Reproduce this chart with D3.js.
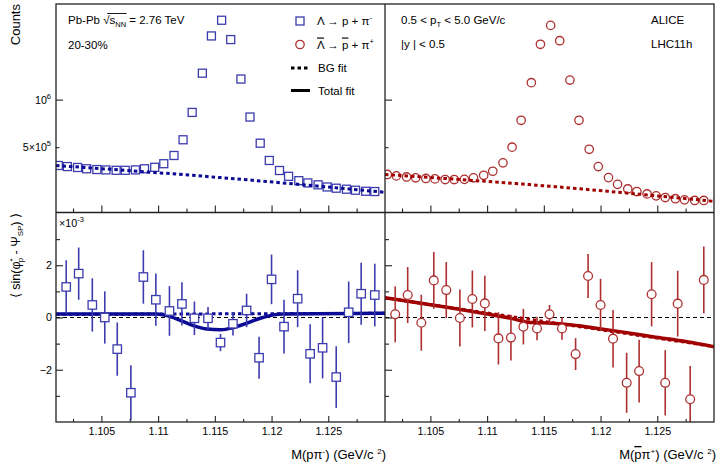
<!DOCTYPE html>
<html><head><meta charset="utf-8">
<script src="https://cdn.jsdelivr.net/npm/d3@7"></script>
<style>
body{margin:0;background:#fff}
svg{display:block}
text{font-family:"Liberation Sans",Arial,Helvetica,sans-serif;fill:#000}
</style>
</head><body>
<svg id="c" width="720" height="465"></svg>
<script>
// ---------------- data ----------------
const massTop = [1.1012,1.1020,1.1029,1.1037,1.1046,1.1054,1.1063,1.1071,1.1080,1.1088,1.1097,1.1105,1.1114,1.1122,1.1130,1.1139,1.1147,1.1156,1.1164,1.1173,1.1181,1.1190,1.1198,1.1207,1.1215,1.1224,1.1232,1.1241,1.1249,1.1257,1.1266,1.1274,1.1283,1.1291];
const countsLambda = [383e3,377e3,372e3,365e3,361e3,359e3,357e3,357e3,359e3,365e3,373e3,393e3,443e3,557e3,830e3,1470e3,2530e3,3180e3,2400e3,1350e3,776e3,530e3,412e3,356e3,327e3,307e3,297e3,289e3,280e3,275e3,271e3,267e3,263e3,262e3];
const countsAntiLambda = [336e3,329e3,324e3,320e3,317e3,315e3,312e3,312e3,313e3,320e3,332e3,352e3,398e3,500e3,740e3,1280e3,2240e3,2950e3,2360e3,1330e3,740e3,485e3,377e3,321e3,291e3,272e3,262e3,253e3,246e3,240e3,236e3,232e3,230e3,230e3];
const bgTopMass = [1.101,1.1155,1.130];
const bgTopLambda = [383e3,321e3,259e3];
const bgTopAnti = [336e3,283e3,227e3];

const massBot = [1.1019,1.1030,1.1042,1.1053,1.1064,1.1076,1.1087,1.1098,1.1110,1.1121,1.1132,1.1144,1.1155,1.1166,1.1178,1.1189,1.1200,1.1211,1.1223,1.1234,1.1245,1.1257,1.1268,1.1279,1.1291];
const sinLambda = [1.17,1.68,0.48,0.0,-1.21,-2.88,1.55,0.68,0.25,0.52,-0.03,-0.03,-0.96,-0.24,0.27,-1.54,1.46,-0.35,0.72,-1.39,-1.16,-2.28,0.20,0.91,0.86];
const errLambda = [1.02,1.0,1.02,1.0,1.02,1.05,1.02,1.0,0.95,0.83,0.64,0.43,0.33,0.45,0.64,0.80,0.95,1.03,1.09,1.13,1.17,1.18,1.18,1.19,1.20];
const sinAnti = [0.12,0.86,-0.20,1.42,1.05,-0.02,0.71,0.54,-0.80,-0.77,-0.35,-0.42,0.12,-0.42,-1.40,1.59,0.48,-0.81,-2.50,-2.05,0.89,-2.50,0.53,-3.13,1.44];
const errAnti = [1.07,1.07,1.07,1.09,1.07,1.09,1.09,1.06,1.0,0.88,0.68,0.45,0.36,0.43,0.61,0.84,1.0,1.10,1.15,1.20,1.23,1.25,1.26,1.27,1.28];

const bgBotMass = [1.101,1.130];
const bgBotLambda = [0.12,0.16];
const bgBotAnti = [0.75,-1.11];
const totLambdaMass = [1.101,1.1099,1.1108,1.1119,1.1131,1.1143,1.1155,1.1166,1.1178,1.1190,1.1202,1.1210,1.130];
const totLambda = [0.13,0.13,0.07,-0.10,-0.31,-0.44,-0.47,-0.39,-0.22,-0.03,0.10,0.13,0.16];
const totAntiMass = [1.101,1.1036,1.1066,1.1096,1.1121,1.1136,1.1157,1.1175,1.1193,1.1217,1.1246,1.1276,1.130];
const totAnti = [0.76,0.58,0.38,0.16,-0.03,-0.18,-0.22,-0.29,-0.39,-0.54,-0.74,-0.93,-1.12];

const xMajor = [1.105,1.11,1.115,1.12,1.125];
const xMinor = [1.1025,1.1075,1.1125,1.1175,1.1225,1.1275];
const yTopMajor = [1e6], yTopMinor = [5e5];
const yBotMajor = [-2,0,2], yBotMinor = [-3,-1,1,3];

// ---------------- layout ----------------
const svg = d3.select("#c");
const L = 56, M = 385, R = 714, T = 4, MID = 212.5, B = 422;
const blueM = "#3c3cae", blueF = "#0a0a94", redM = "#ad2f2f", redF = "#a00000";
const FONT = "Liberation Sans, Arial, sans-serif";

const xL = d3.scaleLinear().domain([1.101,1.13]).range([L,M]);
const xR = d3.scaleLinear().domain([1.101,1.13]).range([M,R]);
const yTop = d3.scaleLog().domain([1.93e5,4.03e6]).range([MID,T]);
const yBot = d3.scaleLinear().domain([-4,4]).range([B,213]);

const defs = svg.append("defs");
function clip(id,x0,y0,x1,y1){defs.append("clipPath").attr("id",id).append("rect").attr("x",x0).attr("y",y0).attr("width",x1-x0).attr("height",y1-y0);}
clip("tl",L,T,M,MID); clip("tr",M,T,R,MID); clip("bl",L,MID,M,B); clip("br",M,MID,R,B);

// ---------------- top panels ----------------
function topPanel(x, counts, bg, col, fcol, marker, cid){
  const g = svg.append("g").attr("clip-path",`url(#${cid})`);
  const pts = massTop.map((m,i)=>[x(m),yTop(counts[i])]);
  if(marker==="sq"){
    g.selectAll("rect.m").data(pts).join("rect").attr("class","m")
      .attr("x",d=>d[0]-4).attr("y",d=>d[1]-4).attr("width",8).attr("height",8)
      .attr("fill","none").attr("stroke",col).attr("stroke-width",1.3);
  } else {
    g.selectAll("circle.m").data(pts).join("circle").attr("class","m")
      .attr("cx",d=>d[0]).attr("cy",d=>d[1]).attr("r",4.2)
      .attr("fill","none").attr("stroke",col).attr("stroke-width",1.3);
  }
  const line = d3.line().x(d=>x(d[0])).y(d=>yTop(d[1])).curve(d3.curveMonotoneX);
  g.append("path").datum(bgTopMass.map((m,i)=>[m,bg[i]])).attr("d",line)
    .attr("fill","none").attr("stroke",fcol).attr("stroke-width",3).attr("stroke-dasharray","3.5,3");
}
topPanel(xL,countsLambda,bgTopLambda,blueM,blueF,"sq","tl");
topPanel(xR,countsAntiLambda,bgTopAnti,redM,redF,"ci","tr");

// ---------------- bottom panels ----------------
function botPanel(x, vals, errs, bg, totM, tot, col, fcol, marker, cid){
  const g = svg.append("g").attr("clip-path",`url(#${cid})`);
  g.append("line").attr("x1",x.range()[0]).attr("x2",x.range()[1]).attr("y1",yBot(0)).attr("y2",yBot(0))
    .attr("stroke","#000").attr("stroke-width",1).attr("stroke-dasharray","4,3");
  const line = d3.line().x(d=>x(d[0])).y(d=>yBot(d[1])).curve(d3.curveMonotoneX);
  g.append("path").datum(bgBotMass.map((m,i)=>[m,bg[i]])).attr("d",line)
    .attr("fill","none").attr("stroke",fcol).attr("stroke-width",3).attr("stroke-dasharray","3.5,3");
  g.append("path").datum(totM.map((m,i)=>[m,tot[i]])).attr("d",line)
    .attr("fill","none").attr("stroke",fcol).attr("stroke-width",3.5);
  const d = massBot.map((m,i)=>({x:x(m),y:yBot(vals[i]),y1:yBot(vals[i]+errs[i]),y0:yBot(vals[i]-errs[i])}));
  g.selectAll("line.e").data(d).join("line").attr("class","e")
    .attr("x1",p=>p.x).attr("x2",p=>p.x).attr("y1",p=>p.y1).attr("y2",p=>p.y0)
    .attr("stroke",col).attr("stroke-width",1.6);
  if(marker==="sq"){
    g.selectAll("rect.m").data(d).join("rect").attr("class","m")
      .attr("x",p=>p.x-4.2).attr("y",p=>p.y-4.2).attr("width",8.4).attr("height",8.4)
      .attr("fill","#fff").attr("stroke",col).attr("stroke-width",1.3);
  } else {
    g.selectAll("circle.m").data(d).join("circle").attr("class","m")
      .attr("cx",p=>p.x).attr("cy",p=>p.y).attr("r",4.4)
      .attr("fill","#fff").attr("stroke",col).attr("stroke-width",1.3);
  }
}
botPanel(xL,sinLambda,errLambda,bgBotLambda,totLambdaMass,totLambda,blueM,blueF,"sq","bl");
botPanel(xR,sinAnti,errAnti,bgBotAnti,totAntiMass,totAnti,redM,redF,"ci","br");

// ---------------- frames ----------------
const fr = svg.append("g").attr("fill","none").attr("stroke","#222").attr("stroke-width",1.3);
fr.append("rect").attr("x",L).attr("y",T).attr("width",R-L).attr("height",B-T);
fr.append("line").attr("x1",M).attr("x2",M).attr("y1",T).attr("y2",B);
fr.append("line").attr("x1",L).attr("x2",R).attr("y1",MID).attr("y2",MID);

// ---------------- axes ----------------
function styleAxis(sel){ sel.select(".domain").remove(); sel.selectAll(".tick line").attr("stroke","#222").attr("stroke-width",1.1); sel.selectAll("text").style("font-family",FONT); }
[xL,xR].forEach(x=>{
  // top panel x axis (no labels)
  svg.append("g").attr("transform",`translate(0,${MID})`).call(d3.axisBottom(x).tickValues(xMajor).tickSize(-7).tickFormat("")).call(styleAxis);
  svg.append("g").attr("transform",`translate(0,${MID})`).call(d3.axisBottom(x).tickValues(xMinor).tickSize(-4).tickFormat("")).call(styleAxis);
  // bottom panel x axis
  const ax = svg.append("g").attr("transform",`translate(0,${B})`)
    .call(d3.axisBottom(x).tickValues(xMajor).tickSize(-6).tickPadding(5).tickFormat(d=>d3.format("")(+d.toFixed(3))))
    .call(styleAxis);
  ax.selectAll("text").style("font-size","10.7px").attr("fill","#000");
  svg.append("g").attr("transform",`translate(0,${B})`).call(d3.axisBottom(x).tickValues(xMinor).tickSize(-3).tickFormat("")).call(styleAxis);
});
[L,M].forEach((x0,k)=>{
  const a1 = svg.append("g").attr("transform",`translate(${x0},0)`).call(d3.axisLeft(yTop).tickValues(yTopMajor).tickSize(-7).tickPadding(6).tickFormat(()=>"")).call(styleAxis);
  const a2 = svg.append("g").attr("transform",`translate(${x0},0)`).call(d3.axisLeft(yTop).tickValues(yTopMinor).tickSize(-3.5).tickPadding(6).tickFormat(()=>"")).call(styleAxis);
  const b1 = svg.append("g").attr("transform",`translate(${x0},0)`).call(d3.axisLeft(yBot).tickValues(yBotMajor).tickSize(-7).tickPadding(4).tickFormat(d=> k===0 ? (d<0?"\u2212"+(-d):String(d)) : "")).call(styleAxis);
  b1.selectAll("text").style("font-size","10.7px").attr("fill","#000");
  svg.append("g").attr("transform",`translate(${x0},0)`).call(d3.axisLeft(yBot).tickValues(yBotMinor).tickSize(-4).tickFormat("")).call(styleAxis);
  if(k===0){
    // log labels with superscripts
    a1.selectAll(".tick").each(function(d){
      const t = d3.select(this).append("text").attr("x",-5).attr("y",3.5).attr("text-anchor","end").style("font-size","10.7px").attr("fill","#000");
      t.append("tspan").text("10");
      t.append("tspan").attr("dy",-5).style("font-size","7.5px").text(String(Math.round(Math.log10(d))));
    });
    a2.selectAll(".tick").each(function(d){
      const e = Math.floor(Math.log10(d)), m = Math.round(d/Math.pow(10,e));
      const t = d3.select(this).append("text").attr("x",-5).attr("y",3.5).attr("text-anchor","end").style("font-size","10.7px").attr("fill","#000");
      t.append("tspan").text(m+"\u00d710");
      t.append("tspan").attr("dy",-5).style("font-size","7.5px").text(String(e));
    });
  }
});

// ---------------- texts ----------------
function txt(x,y,size,anchor){ return svg.append("text").attr("x",x).attr("y",y).attr("text-anchor",anchor||"start").style("font-size",size+"px"); }
function sup(t,s,size){ t.append("tspan").attr("dy",-5).style("font-size",(size||8)+"px").text(s); t.append("tspan").attr("dy",5).text("\u200b"); }

// Pb-Pb sqrt(s_NN)
const t1 = txt(68,24,11.5);
t1.append("tspan").text("Pb-Pb \u221a");
t1.append("tspan").text("s");
t1.append("tspan").attr("dy",2.5).style("font-size","7.5px").text("NN");
t1.append("tspan").attr("dy",-2.5).text(" = 2.76 TeV");
const n1 = t1.node();
const sx0 = n1.getStartPositionOfChar(6).x + 5, sx1 = n1.getEndPositionOfChar(9).x + 0.5;
svg.append("line").attr("x1",n1.getStartPositionOfChar(6).x+4).attr("x2",sx1).attr("y1",13.5).attr("y2",13.5).attr("stroke","#000").attr("stroke-width",0.9);
txt(68,48.5,11.5).text("20-30%");

// legend
svg.append("rect").attr("x",296).attr("y",17).attr("width",8).attr("height",8).attr("fill","none").attr("stroke",blueM).attr("stroke-width",1.3);
svg.append("circle").attr("cx",300).attr("cy",44.5).attr("r",4.2).attr("fill","none").attr("stroke",redM).attr("stroke-width",1.3);
svg.append("line").attr("x1",291).attr("x2",310).attr("y1",68).attr("y2",68).attr("stroke","#000").attr("stroke-width",3).attr("stroke-dasharray","3.5,3");
svg.append("line").attr("x1",291).attr("x2",310).attr("y1",90.5).attr("y2",90.5).attr("stroke","#000").attr("stroke-width",3);
const l1 = txt(317,24.5,11.5);
l1.append("tspan").text("\u039b \u2192 p + \u03c0");
l1.append("tspan").attr("dy",-5).style("font-size","7.5px").text("-");
const l2 = txt(317,48.5,11.5);
l2.append("tspan").style("text-decoration","overline").text("\u039b");
l2.append("tspan").text(" \u2192 ");
l2.append("tspan").style("text-decoration","overline").text("p");
l2.append("tspan").text(" + \u03c0");
l2.append("tspan").attr("dy",-5).style("font-size","7.5px").text("+");
txt(318,72,11.5).text("BG fit");
txt(318,95,11.5).text("Total fit");

// right panel texts
const r1 = txt(401,23.5,11.5);
r1.append("tspan").text("0.5 < p");
r1.append("tspan").attr("dy",3).style("font-size","7.5px").text("T");
r1.append("tspan").attr("dy",-3).text(" < 5.0 GeV/c");
txt(401,47.5,11.5).text("|y | < 0.5");
txt(651,24,11.5).text("ALICE");
txt(651,48,11.5).text("LHC11h");

// x10^-3
const e3 = txt(59,227,10.7);
e3.append("tspan").text("\u00d710");
e3.append("tspan").attr("dy",-5).style("font-size","7.5px").text("-3");

// y titles
svg.append("text").attr("transform","translate(20,4) rotate(-90)").attr("text-anchor","end").style("font-size","13px").text("Counts");
const yl = svg.append("text").attr("transform","translate(20,213) rotate(-90)").attr("text-anchor","end").style("font-size","12.5px");
yl.append("tspan").text("\u27e8 sin(\u03c6");
yl.append("tspan").attr("dy",-5).style("font-size","8px").text("*");
yl.append("tspan").attr("dx",-4).attr("dy",8).style("font-size","8px").text("p");
yl.append("tspan").attr("dy",-3).text(" - \u03a8");
yl.append("tspan").attr("dy",3).style("font-size","8px").text("SP");
yl.append("tspan").attr("dy",-3).text(") \u27e9");

// x titles
const x1t = txt(386,459,13,"end");
x1t.append("tspan").text("M(p\u03c0");
x1t.append("tspan").attr("dy",-5).style("font-size","8px").text("-");
x1t.append("tspan").attr("dy",5).text(") (GeV/c ");
x1t.append("tspan").attr("dy",-5).style("font-size","8px").text("2");
x1t.append("tspan").attr("dy",5).text(")");
const x2t = txt(716,459,13,"end");
x2t.append("tspan").text("M(");
x2t.append("tspan").style("text-decoration","overline").text("p");
x2t.append("tspan").text("\u03c0");
x2t.append("tspan").attr("dy",-5).style("font-size","8px").text("+");
x2t.append("tspan").attr("dy",5).text(") (GeV/c ");
x2t.append("tspan").attr("dy",-5).style("font-size","8px").text("2");
x2t.append("tspan").attr("dy",5).text(")");
</script>
</body></html>
